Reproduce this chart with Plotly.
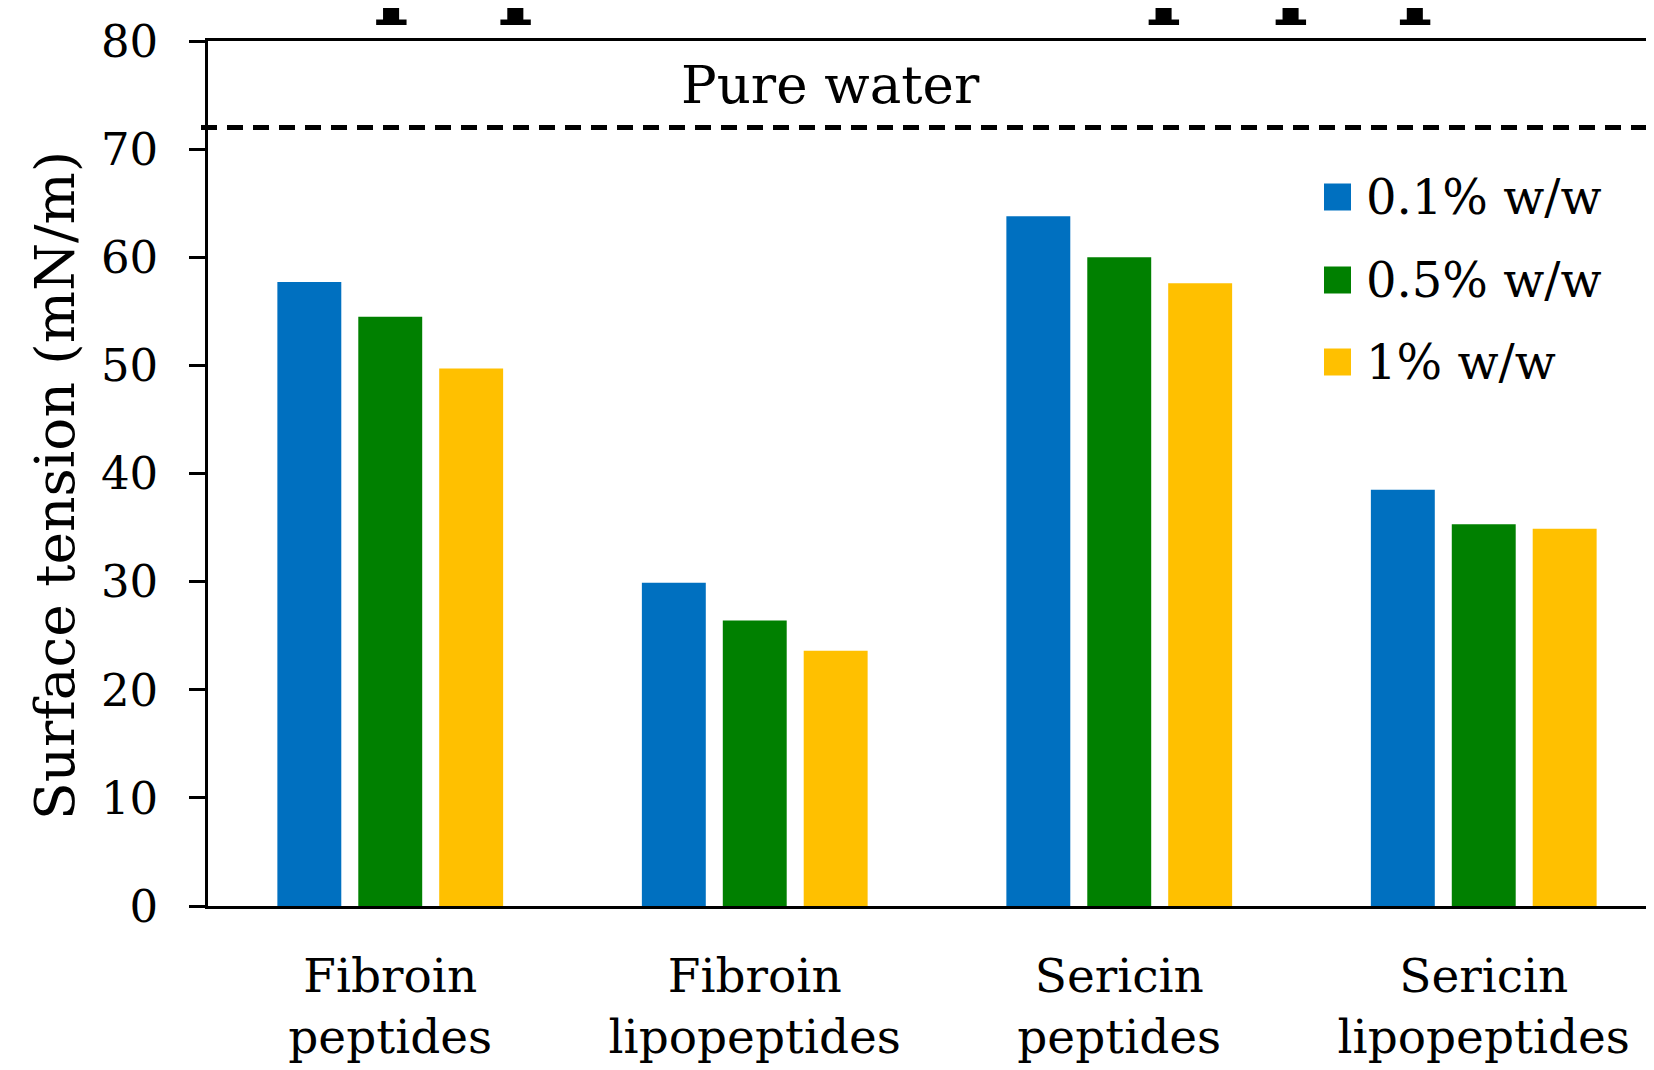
import plotly.graph_objects as go

# ---- data ----
categories = ["Fibroin<br>peptides", "Fibroin<br>lipopeptides", "Sericin<br>peptides", "Sericin<br>lipopeptides"]
series_names = ["0.1% w/w", "0.5% w/w", "1% w/w"]
vals_01 = [57.7, 29.9, 63.8, 38.5]
vals_05 = [54.5, 26.4, 60.0, 35.3]
vals_1 = [49.7, 23.6, 57.6, 34.9]
pure_water = 72.0
y_ticks = [0, 10, 20, 30, 40, 50, 60, 70, 80]

colors = ["#0070C0", "#008000", "#FFC000"]
series_vals = [vals_01, vals_05, vals_1]

# page body has an 8px margin: figure sized to fit the 1654x1070 window
OFF = 8
W, H = 1654 - OFF, 1070 - OFF
ML, MR, MT, MB = 200, 0, 33, 164
PW, PH = W - ML - MR, H - MT - MB

def px_x(p):  # screen px -> paper x
    return (p - OFF - ML) / PW

def px_y(p):  # screen px -> paper y
    return (H - MB - (p - OFF)) / PH

SERIF = "DejaVu Serif"

fig = go.Figure()
for name, vals, col in zip(series_names, series_vals, colors):
    fig.add_trace(go.Bar(x=categories, y=vals, name=name, marker=dict(color=col, line=dict(width=0)),
                         showlegend=False))

# pure water dashed line
fig.add_shape(type="line", xref="paper", yref="y", x0=px_x(201), x1=1.0, y0=pure_water, y1=pure_water,
              line=dict(color="black", width=5, dash="16px,10px"))
fig.add_annotation(text="Pure water", xref="paper", yref="paper", x=px_x(830), y=px_y(85),
                   xanchor="center", yanchor="middle", showarrow=False,
                   font=dict(family=SERIF, size=53, color="black"))

# manual legend
leg_y = [197, 280, 362]
for name, col, yy in zip(series_names, colors, leg_y):
    fig.add_shape(type="rect", xref="paper", yref="paper",
                  x0=px_x(1324), x1=px_x(1351), y0=px_y(yy - 13.5), y1=px_y(yy + 13.5),
                  fillcolor=col, line=dict(width=0))
    fig.add_annotation(text=name, xref="paper", yref="paper", x=px_x(1364), y=px_y(yy),
                       xanchor="left", yanchor="middle", showarrow=False,
                       font=dict(family=SERIF, size=48, color="black"))

# y-axis title
fig.add_annotation(text="Surface tension (mN/m)", xref="paper", yref="paper", x=px_x(55), y=px_y(486),
                   xanchor="center", yanchor="middle", textangle=-90, showarrow=False,
                   font=dict(family=SERIF, size=55, color="black"))

# clipped title at top
TFONT = dict(family="DejaVu Serif", size=93, color="black", weight="bold")
fig.add_annotation(text="peptides and lipopeptides", xref="paper", yref="paper",
                   x=px_x(372), y=px_y(30), xanchor="left", yanchor="bottom", showarrow=False,
                   font=TFONT)
fig.add_annotation(text="Surface tension of silk", xref="paper", yref="paper",
                   x=px_x(345), y=px_y(30), xanchor="right", yanchor="bottom", showarrow=False,
                   font=TFONT)

fig.update_layout(
    width=W, height=H,
    margin=dict(l=ML, r=MR, t=MT, b=MB, autoexpand=False),
    paper_bgcolor="white", plot_bgcolor="white",
    barmode="group", bargap=0.334, bargroupgap=0.21,
    font=dict(family=SERIF, color="black"),
)
fig.update_xaxes(
    type="category", range=[-0.5, 3.5 - 12 / 364.6],
    showline=True, linecolor="black", linewidth=2.5, mirror=True,
    ticks="", showgrid=False, zeroline=False,
    tickfont=dict(family=SERIF, size=47, color="black"),
    ticklabelstandoff=27,
)
fig.update_yaxes(
    range=[0, 80], tickvals=y_ticks, ticktext=[str(v) for v in y_ticks],
    showline=True, linecolor="black", linewidth=2.7,
    ticks="outside", ticklen=16, tickwidth=2.5, tickcolor="black",
    showgrid=False, zeroline=False,
    tickfont=dict(family=SERIF, size=45, color="black"),
    ticklabelstandoff=22,
)

fig.write_html("out.html")
